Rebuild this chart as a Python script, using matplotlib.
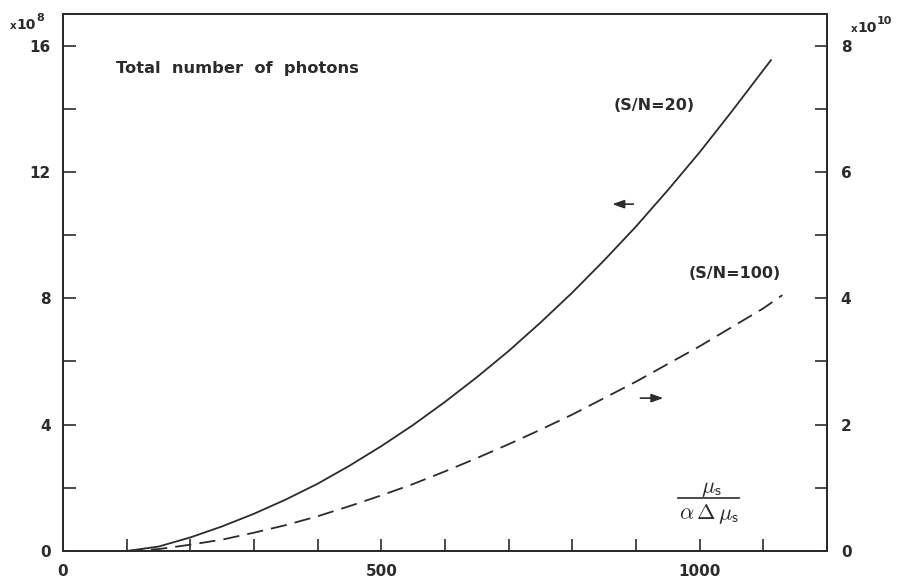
import matplotlib
matplotlib.use("Agg")
import matplotlib.pyplot as plt
from matplotlib.lines import Line2D

# ---- data ----
x_sn20 = [100, 150, 200, 250, 300, 350, 400, 450, 500, 550, 600, 650, 700,
          750, 800, 850, 900, 950, 1000, 1050, 1100, 1113]
y_sn20 = [0.0, 0.14, 0.43, 0.78, 1.18, 1.63, 2.13, 2.7, 3.32, 3.99, 4.72, 5.5,
          6.33, 7.23, 8.18, 9.2, 10.27, 11.42, 12.62, 13.9, 15.22, 15.56]  # x 10^8 (left)

x_sn100 = [100, 150, 200, 250, 300, 350, 400, 450, 500, 550, 600, 650, 700,
           750, 800, 850, 900, 950, 1000, 1050, 1100, 1130]
y_sn100 = [0.0, 0.03, 0.1, 0.18, 0.29, 0.41, 0.55, 0.71, 0.88, 1.06, 1.26,
           1.47, 1.69, 1.92, 2.16, 2.42, 2.68, 2.96, 3.24, 3.54, 3.84, 4.05]  # x 10^10 (right)

x_ticks = list(range(0, 1201, 100))
x_ticklabels = ["0", "", "", "", "", "500", "", "", "", "", "1000", "", ""]
yl_ticks = list(range(0, 17, 2))
yl_ticklabels = ["0", "", "4", "", "8", "", "12", "", "16"]
yr_ticks = list(range(0, 9, 1))
yr_ticklabels = ["0", "", "2", "", "4", "", "6", "", "8"]

ink = "#2b2b2b"
plt.rcParams["font.family"] = ["DejaVu Sans"]
plt.rcParams["mathtext.fontset"] = "cm"

fig = plt.figure(figsize=(8.98, 5.78), dpi=100)
ax = fig.add_axes([0.0702, 0.0467, 0.8506, 0.9291])
ax2 = ax.twinx()

ax.plot(x_sn20, y_sn20, color=ink, lw=1.3, solid_capstyle="butt")
ax2.plot(x_sn100, y_sn100, color=ink, lw=1.3, dashes=(9, 4.5))

ax.set_xlim(0, 1200)
ax.set_ylim(0, 17)
ax2.set_ylim(0, 8.5)

ax.set_xticks(x_ticks)
ax.set_xticklabels(x_ticklabels)
ax.set_yticks(yl_ticks)
ax.set_yticklabels(yl_ticklabels)
ax2.set_yticks(yr_ticks)
ax2.set_yticklabels(yr_ticklabels)

for a in (ax, ax2):
    for s in a.spines.values():
        s.set_color(ink)
        s.set_linewidth(1.3)

ax.tick_params(axis="x", direction="in", length=9, width=1.2, color=ink,
               pad=9, labelsize=11, labelcolor=ink)
ax.tick_params(axis="y", direction="in", length=9, width=1.2, color=ink,
               pad=9, labelsize=11, labelcolor=ink, right=False)
ax2.tick_params(axis="y", direction="in", length=9, width=1.2, color=ink,
                pad=10, labelsize=11, labelcolor=ink)
for lab in ax.get_xticklabels() + ax.get_yticklabels() + ax2.get_yticklabels():
    lab.set_fontweight("bold")

# exponent markers
def exp_label(x0, y_base, base_w, sup):
    fig.text(x0 / 898, 1 - y_base / 578, "x", fontsize=7.5, color=ink,
             fontweight="bold", va="baseline", ha="left")
    fig.text((x0 + 6) / 898, 1 - y_base / 578, "10", fontsize=10, color=ink,
             fontweight="bold", va="baseline", ha="left")
    fig.text((x0 + 7 + base_w) / 898, 1 - (y_base - 8) / 578, sup,
             fontsize=8, color=ink, fontweight="bold", va="baseline", ha="left")

exp_label(10, 29, 19, "8")
exp_label(851, 32, 19, "10")

# annotations
ax.text(0.069, 0.8976, "Total  number  of  photons", transform=ax.transAxes,
        fontsize=11.7, fontweight="bold", color=ink, va="center", ha="left")
ax.text(928, 14.1, "(S/N=20)", fontsize=11.5, fontweight="bold", color=ink,
        va="center", ha="center")
ax.text(1056, 8.8, "(S/N=100)", fontsize=11.5, fontweight="bold", color=ink,
        va="center", ha="center")

arrow = dict(arrowstyle="-|>,head_length=0.7,head_width=0.25", color=ink,
             lw=1.2, shrinkA=0, shrinkB=0)
ax.annotate("", xy=(863, 10.98), xytext=(896, 10.98), arrowprops=arrow)
ax.annotate("", xy=(943, 4.84), xytext=(907, 4.84), arrowprops=arrow)

# fraction label mu_s / (alpha Delta mu_s)
fig.text(711 / 898, 1 - 489 / 578, r"$\mu_{\mathsf{s}}$", fontsize=16,
         color=ink, ha="center", va="center")
fig.add_artist(Line2D([678 / 898, 739 / 898], [1 - 498 / 578, 1 - 498 / 578],
                      color=ink, lw=1.2, transform=fig.transFigure))
fig.text(709 / 898, 1 - 514 / 578, r"$\alpha\,\Delta\,\mu_{\mathsf{s}}$",
         fontsize=16, color=ink, ha="center", va="center")

fig.savefig("out.png", dpi=100, facecolor="white")
